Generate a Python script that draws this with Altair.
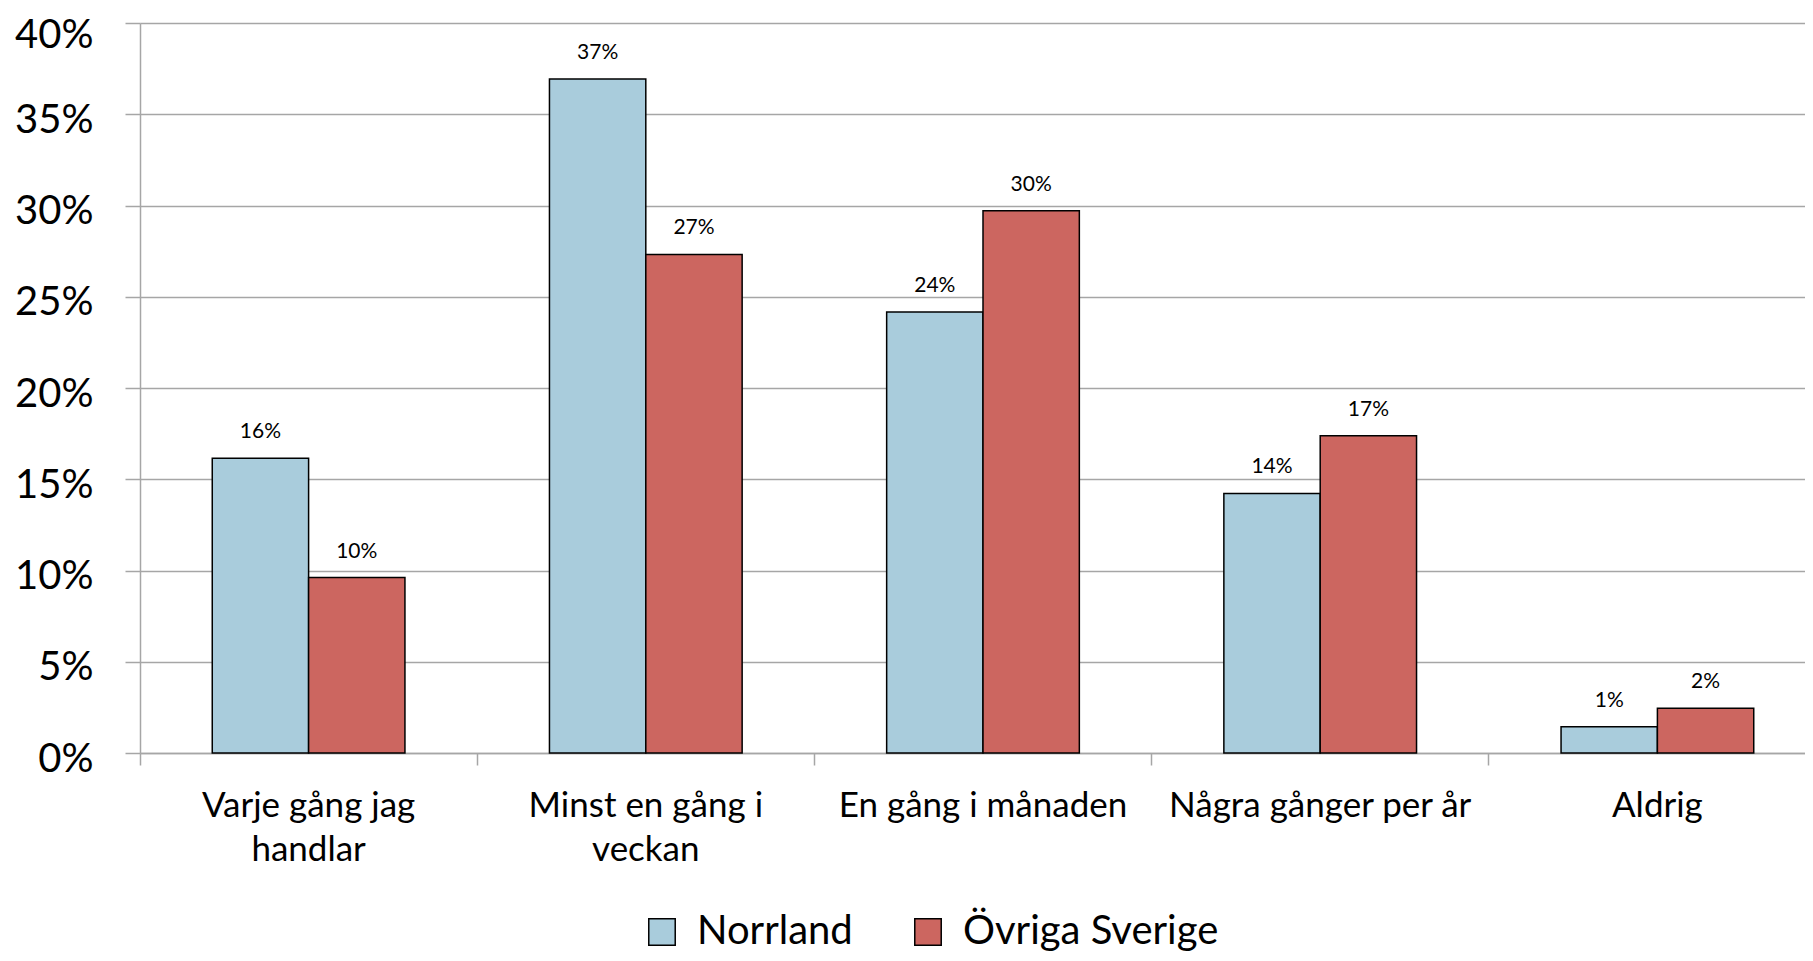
import altair as alt
import pandas as pd

categories = ["Varje gång jag handlar", "Minst en gång i veckan", "En gång i månaden",
              "Några gånger per år", "Aldrig"]
label_lines = [["Varje gång jag", "handlar"], ["Minst en gång i", "veckan"],
               ["En gång i månaden"], ["Några gånger per år"], ["Aldrig"]]
series = ["Norrland", "Övriga Sverige"]
norrland = [0.1615, 0.3693, 0.2417, 0.1422, 0.0144]
ovriga = [0.0961, 0.2732, 0.2971, 0.1738, 0.0245]
colors = ["#A9CCDC", "#CC6660"]
y_ticks = [0, 0.05, 0.10, 0.15, 0.20, 0.25, 0.30, 0.35, 0.40]

rows = []
for i, c in enumerate(categories):
    rows.append({"kategori": c, "region": series[0], "andel": norrland[i]})
    rows.append({"kategori": c, "region": series[1], "andel": ovriga[i]})
df = pd.DataFrame(rows)

# build label expression (multi-line category labels)
expr = "datum.label"
for c, lines in reversed(list(zip(categories, label_lines))):
    arr = "[" + ",".join("'" + s + "'" for s in lines) + "]"
    expr = f"datum.label == '{c}' ? {arr} : ({expr})"

FONT = "Lato"
W_FULL = 1686   # full category range (extends past the window edge)
W = 1665        # visible plot width
H = 730

x_enc = alt.X("kategori:N", sort=categories,
              scale=alt.Scale(paddingInner=0, paddingOuter=0, range=[0, W_FULL]),
              axis=alt.Axis(title=None, bandPosition=0,
                            labelExpr=expr, labelAngle=0, labelFont=FONT,
                            labelFontSize=35, labelColor="black",
                            labelBaseline="top", labelLineHeight=44,
                            labelPadding=23, tickSize=12, tickColor="#A6A6A6",
                            tickWidth=1.5, domainColor="#A6A6A6", domainWidth=1.5,
                            grid=False, labelLimit=0))
xoff = alt.XOffset("region:N", sort=series,
                   scale=alt.Scale(paddingOuter=0.75, paddingInner=0))
y_enc = alt.Y("andel:Q", scale=alt.Scale(domain=[0, 0.4], nice=False),
              axis=alt.Axis(title=None, format=".0%", values=y_ticks,
                            labelFont=FONT, labelFontSize=40, labelColor="black",
                            labelPadding=32,
                            labelOffset={"condition": {"test": "datum.value >= 0.4", "value": 12},
                                         "value": 6},
                            tickSize=15,
                            tickColor="#A6A6A6", tickWidth=1.5,
                            domainColor="#A6A6A6", domainWidth=1.5,
                            gridColor="#A6A6A6", gridWidth=1.5))

bars = alt.Chart(df).mark_bar(stroke="black", strokeWidth=1.5).encode(
    x=x_enc, xOffset=xoff, y=y_enc,
    color=alt.Color("region:N", sort=series,
                    scale=alt.Scale(domain=series, range=colors),
                    legend=alt.Legend(title=None, orient="none", direction="horizontal",
                                      columns=2, legendX=502, legendY=889,
                                      labelFont=FONT, labelFontSize=40, labelLimit=0,
                                      labelColor="black", labelOffset=15,
                                      columnPadding=55, padding=0,
                                      symbolType="square",
                                      symbolSize=700, symbolStrokeColor="black",
                                      symbolStrokeWidth=1.5, symbolOpacity=1)),
)

labels = alt.Chart(df).mark_text(font=FONT, fontSize=21, color="black",
                                 baseline="alphabetic", dy=-20).encode(
    x=alt.X("kategori:N", sort=categories), xOffset=alt.XOffset("region:N", sort=series),
    y="andel:Q", text=alt.Text("andel:Q", format=".0%"),
)

chart = alt.layer(bars, labels).properties(
    width=W, height=H,
    autosize=alt.AutoSizeParams(type="none"),
    padding={"left": 132, "top": 15, "right": 0, "bottom": 200},
).configure_view(stroke=None).configure_axis(labelFont=FONT)

chart.save("out.html", embed_options={"renderer": "svg", "actions": False})
